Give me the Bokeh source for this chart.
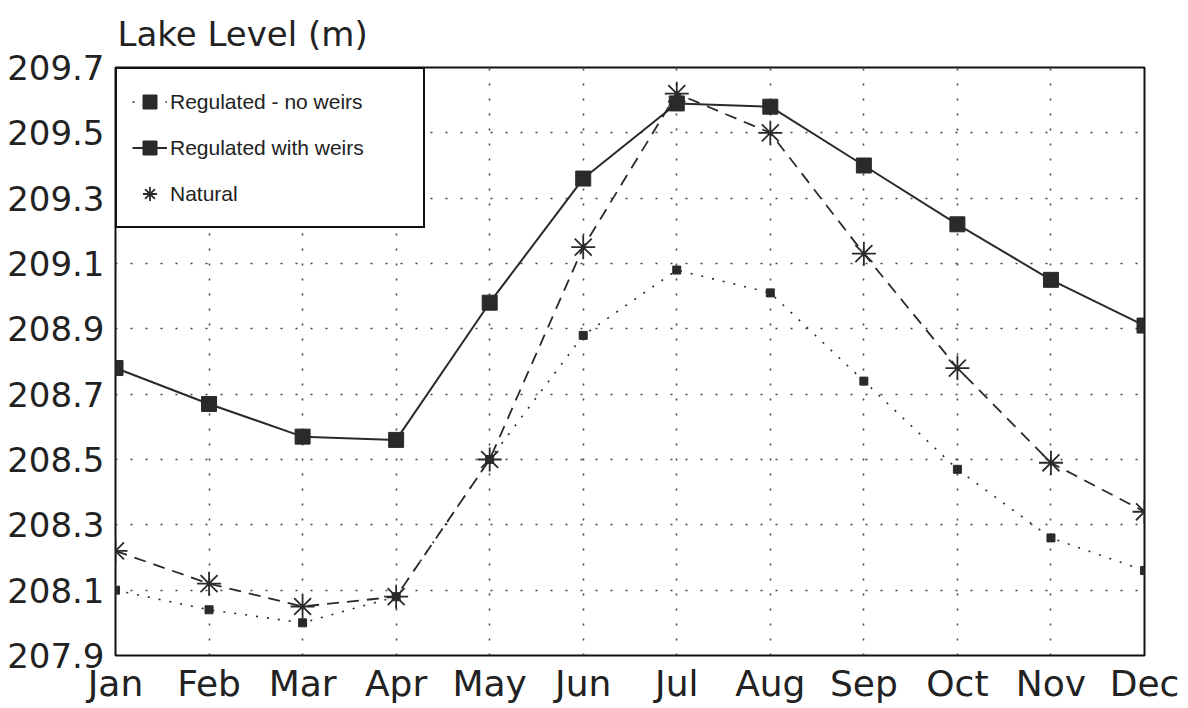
from bokeh.plotting import figure
from bokeh.models import Range1d, FixedTicker, Legend, LegendItem, NumeralTickFormatter
from bokeh.embed import file_html
from bokeh.resources import INLINE

months = ["Jan", "Feb", "Mar", "Apr", "May", "Jun", "Jul", "Aug", "Sep", "Oct", "Nov", "Dec"]
month_index = list(range(len(months)))
y_ticks = [207.9, 208.1, 208.3, 208.5, 208.7, 208.9, 209.1, 209.3, 209.5, 209.7]

regulated_no_weirs = [208.10, 208.04, 208.00, 208.08, 208.50, 208.88, 209.08, 209.01, 208.74, 208.47, 208.26, 208.16]
regulated_with_weirs = [208.78, 208.67, 208.57, 208.56, 208.98, 209.36, 209.59, 209.58, 209.40, 209.22, 209.05, 208.91]
natural = [208.22, 208.12, 208.05, 208.08, 208.50, 209.15, 209.62, 209.50, 209.13, 208.78, 208.49, 208.34]

INK = "#2a2a2a"
TITLE = "Lake Level (m)"

p = figure(width=1188, height=708, output_backend="svg", toolbar_location=None,
           x_range=Range1d(0, 11), y_range=Range1d(207.9, 209.7),
           min_border_left=115, min_border_right=44, min_border_top=67, min_border_bottom=53,
           background_fill_color="white", border_fill_color="white")

p.title.text = TITLE
p.title.align = "left"
p.title.vertical_align = "top"
p.title.offset = 2
p.title.standoff = 23
p.title.text_font = "DejaVu Sans"
p.title.text_font_size = "34px"
p.title.text_font_style = "normal"
p.title.text_color = "#222222"

bottom_axis = p.below[0]
left_axis = p.left[0]
bottom_axis.ticker = FixedTicker(ticks=month_index)
bottom_axis.major_label_overrides = {i: m for i, m in zip(month_index, months)}
left_axis.ticker = FixedTicker(ticks=y_ticks)
left_axis.formatter = NumeralTickFormatter(format="0.0")

for ax in (bottom_axis, left_axis):
    ax.axis_line_color = None
    ax.major_tick_line_color = None
    ax.minor_tick_line_color = None
    ax.major_tick_out = 0
    ax.major_tick_in = 0
    ax.minor_tick_out = 0
    ax.minor_tick_in = 0
    ax.axis_label_standoff = 0
    ax.major_label_text_font = "DejaVu Sans"
    ax.major_label_text_color = "#222222"
bottom_axis.major_label_text_font_size = "36px"
bottom_axis.major_label_standoff = 7
left_axis.major_label_text_font_size = "34px"
left_axis.major_label_standoff = 11

for g, t in ((p.xgrid[0], month_index), (p.ygrid[0], y_ticks)):
    g.grid_line_color = "#444444"
    g.grid_line_width = 1.6
    g.grid_line_dash = "2 13"
    g.ticker = FixedTicker(ticks=t)

p.outline_line_color = "#111111"
p.outline_line_width = 2
p.outline_line_alpha = 1.0

# Regulated - no weirs
l1 = p.line(month_index, regulated_no_weirs, line_color=INK, line_width=1.6, line_dash="2 9")
s1 = p.scatter(month_index, regulated_no_weirs, marker="square", size=8, fill_color=INK, line_color=INK)
# Natural
l3 = p.line(month_index, natural, line_color=INK, line_width=1.8, line_dash="12 8")
s3 = p.scatter(month_index, natural, marker="asterisk", size=24, line_color=INK, line_width=1.8)
# Regulated with weirs
l2 = p.line(month_index, regulated_with_weirs, line_color=INK, line_width=2)
s2 = p.scatter(month_index, regulated_with_weirs, marker="square", size=15, fill_color=INK, line_color=INK)

legend = Legend(items=[
    LegendItem(label="Regulated - no weirs", renderers=[l1, s1]),
    LegendItem(label="Regulated with weirs", renderers=[l2, s2]),
    LegendItem(label="Natural", renderers=[s3]),
], location="top_left", margin=0, padding=15, spacing=11,
    glyph_width=35, glyph_height=35, label_height=30, label_width=238, label_standoff=3,
    border_line_color="#111111", border_line_width=2, border_line_alpha=1.0,
    background_fill_color="white", background_fill_alpha=1.0,
    label_text_font="Liberation Sans", label_text_font_size="21px",
    label_text_color="#222222")
p.add_layout(legend)

open("out.html", "w").write(file_html(p, INLINE))
